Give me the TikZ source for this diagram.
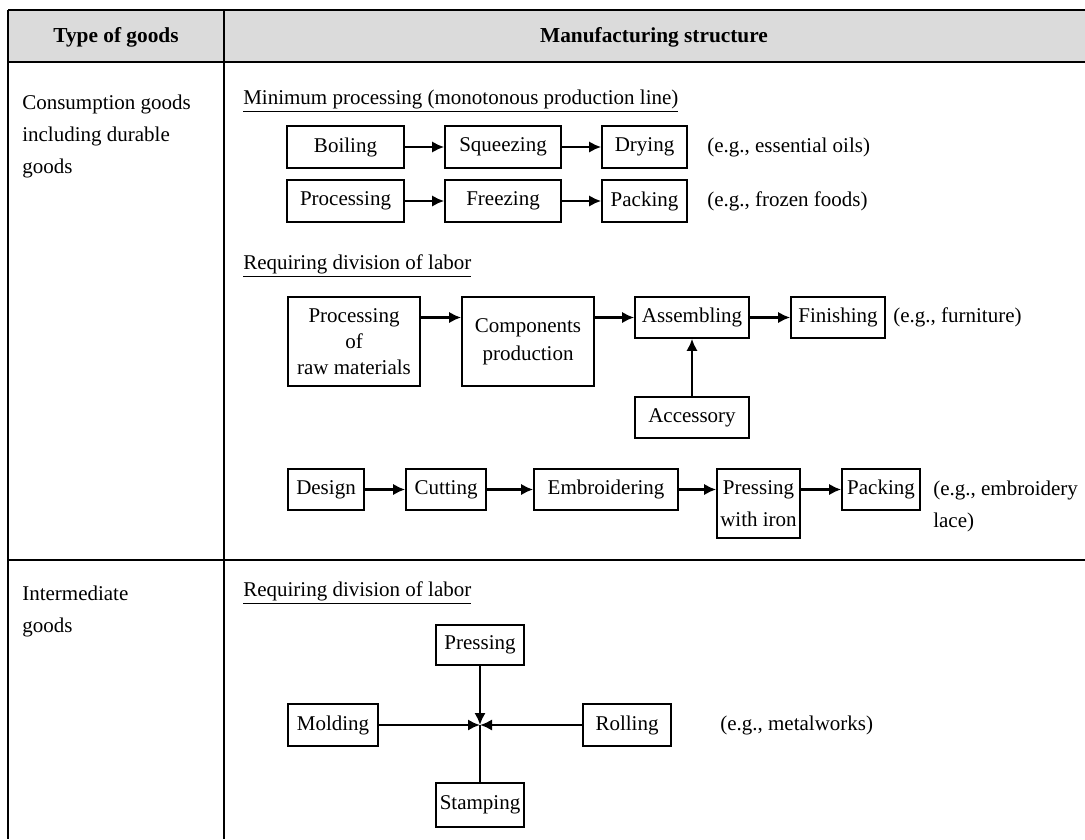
\documentclass[tikz,border=0pt]{standalone}
\usepackage{fontspec}
\setmainfont{Liberation Serif}
\usetikzlibrary{arrows.meta,positioning}

\tikzset{
  box/.style={draw,line width=1.2pt,inner sep=0pt,align=center},
  sz/.style 2 args={minimum width=#1*0.75pt,minimum height=#2*0.75pt},
  flow/.style={draw,-{Latex[length=9pt,width=8.5pt]},line width=2.2pt},
  note/.style={anchor=west,inner sep=0pt},
  rule/.style={line width=1.1pt}
}

\begin{document}
\begin{tikzpicture}[x=0.75pt,y=-0.75pt,font=\fontsize{15.75}{19}\selectfont]

  \useasboundingbox (0,0) rectangle (1085,839);

  % table frame
  \fill[black!14] (8,10) rectangle (1085,62);
  \draw[line width=2.2pt] (8,10) -- (1085,10);
  \draw[line width=1.8pt] (8,62) -- (1085,62);
  \draw[rule] (8,10) -- (8,839) (224,10) -- (224,839) (8,560) -- (1085,560);

  \node[font=\fontsize{16}{19}\selectfont\bfseries] (hdtype) at (116,37) {Type of goods};
  \node[font=\fontsize{16}{19}\selectfont\bfseries] (hdman)  at (654,37) {Manufacturing structure};

  \node[anchor=north west,align=left,inner sep=0pt,font=\fontsize{15.75}{24}\selectfont]
    (cons) at (22,95) {Consumption goods\\including durable\\goods};
  \node[anchor=north west,align=left,inner sep=0pt,font=\fontsize{15.75}{24}\selectfont]
    (inter) at (22,586) {Intermediate\\goods};

  % minimum processing
  \node[note] (minproc) at (243,101) {\underline{Minimum processing (monotonous production line)}};
  \node[box,sz={117}{42}] (boil)    at (345.5,147) {Boiling};
  \node[box,sz={116}{42}] (squeeze) at (503,147)   {Squeezing};
  \node[box,sz={85}{42}]  (dry)     at (644.5,147) {Drying};
  \node[note]             (egoil)   at (707,147)   {(e.g., essential oils)};

  \node[box,sz={117}{42}] (proc)    at (345.5,201) {Processing};
  \node[box,sz={116}{42}] (freeze)  at (503,201)   {Freezing};
  \node[box,sz={85}{42}]  (pack)    at (644.5,201) {Packing};
  \node[note]             (egfood)  at (707,201)   {(e.g., frozen foods)};

  \path (boil) edge[flow] (squeeze)  (squeeze) edge[flow] (dry)
        (proc) edge[flow] (freeze)   (freeze)  edge[flow] (pack);

  % division of labor: furniture
  \node[note] (divone) at (243,266) {\underline{Requiring division of labor}};
  \node[box,sz={132}{89},font=\fontsize{15.75}{19.5}\selectfont]
    (raw)    at (354,341.5) {Processing\\of\\raw materials};
  \node[box,sz={132}{89},font=\fontsize{15.75}{21}\selectfont]
    (comp)   at (528,341.5) {Components\\production};
  \node[box,sz={114}{41}] (assem)  at (692,317.5) {Assembling};
  \node[box,sz={94}{41}]  (finish) at (838,317.5) {Finishing};
  \node[box,sz={114}{41}] (acc)    at (692,417.5) {Accessory};
  \node[note]             (egfurn) at (893,317.5) {(e.g., furniture)};

  \path (raw.east |- assem) edge[flow] (comp.west |- assem)
        (comp.east |- assem) edge[flow] (assem)
        (assem) edge[flow] (finish)
        (acc)   edge[flow] (assem);

  % division of labor: lace
  \node[box,sz={76}{41}]  (design) at (326,489.5) {Design};
  \node[box,sz={80}{41}]  (cut)    at (446,489.5) {Cutting};
  \node[box,sz={144}{41}] (embr)   at (606,489.5) {Embroidering};
  \node[box,sz={83}{69},font=\fontsize{15.75}{24}\selectfont]
    (iron)   at (758.5,503.5) {Pressing\\with iron};
  \node[box,sz={78}{41}]  (lpack)  at (881,489.5) {Packing};
  \node[note,anchor=north west,align=left,font=\fontsize{15.75}{24}\selectfont]
    (eglace) at (933,481) {(e.g., embroidery\\lace)};

  \path (design) edge[flow] (cut)
        (cut)    edge[flow] (embr)
        (embr.east) edge[flow] (embr.east -| iron.west)
        (iron.east |- lpack) edge[flow] (lpack);

  % intermediate goods
  \node[note] (divtwo) at (243,593) {\underline{Requiring division of labor}};
  \coordinate (hub) at (480,725);
  \node[box,sz={88}{40}] (press) at (480,645) {Pressing};
  \node[box,sz={90}{42}] (mold)  at (333,725) {Molding};
  \node[box,sz={88}{42}] (roll)  at (627,725) {Rolling};
  \node[box,sz={88}{44}] (stamp) at (480,805) {Stamping};
  \node[note]            (egmet) at (720,725) {(e.g., metalworks)};

  \path (press) edge[flow] (hub)
        (mold)  edge[flow] (hub)
        (roll)  edge[flow] (hub)
        (hub)   edge[draw,line width=2.2pt] (stamp);
\end{tikzpicture}
\end{document}
